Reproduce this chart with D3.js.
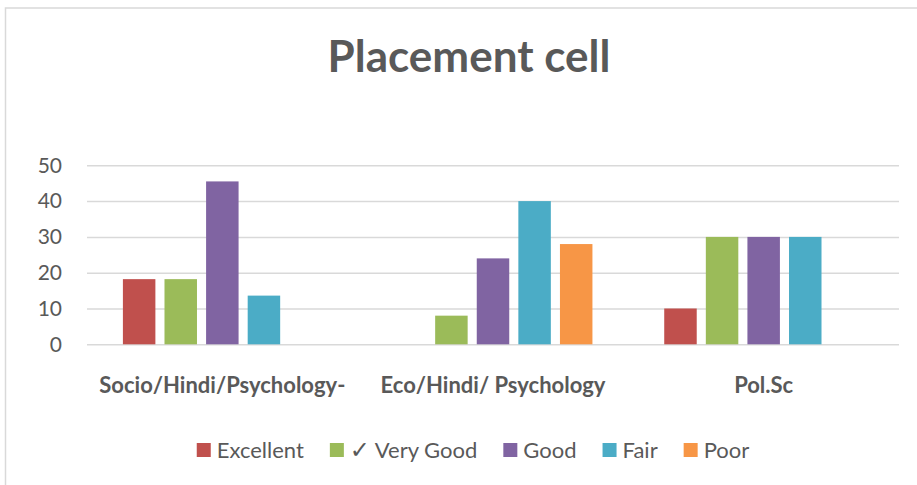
<!DOCTYPE html>
<html>
<head>
<meta charset="utf-8">
<script src="https://cdn.jsdelivr.net/npm/d3@7"></script>
<style>
  body { margin: 0; background: #fff; }
  text { font-family: Lato, "Noto Sans", sans-serif; fill: #595959; }
</style>
</head>
<body>
<script>
// chart data
var categories = ["Socio/Hindi/Psychology-", "Eco/Hindi/ Psychology", "Pol.Sc"];
var series = ["Excellent", "\u2713 Very Good", "Good", "Fair", "Poor"];
var colors = ["#C0504D", "#9BBB59", "#8064A2", "#4BACC6", "#F79646"];
var excellent = [18.2, 0, 10];
var veryGood = [18.2, 8, 30];
var good = [45.5, 24, 30];
var fair = [13.6, 40, 30];
var poor = [0, 28, 0];
var yTicks = [0, 10, 20, 30, 40, 50];

var values = [excellent, veryGood, good, fair, poor];

var width = 917, height = 485;
var margin = {top: 165.3, right: 18, bottom: 140.7, left: 87};

var svg = d3.select("body").append("svg")
    .attr("width", width)
    .attr("height", height);

// chart area border
svg.append("rect")
    .attr("x", 5.5).attr("y", 8)
    .attr("width", 930).attr("height", 500)
    .attr("fill", "none")
    .attr("stroke", "#d9d9d9")
    .attr("stroke-width", 1.5);

// title
svg.append("text")
    .attr("x", 469).attr("y", 72)
    .attr("text-anchor", "middle")
    .style("font-size", "44px")
    .style("font-weight", "bold")
    .text("Placement cell");

var x0 = d3.scaleBand()
    .domain(categories)
    .range([margin.left, width - margin.right])
    .padding(0);

var x1 = d3.scaleBand()
    .domain(d3.range(series.length))
    .range([0, x0.bandwidth()])
    .paddingInner(0.219)
    .paddingOuter(0.863);

var y = d3.scaleLinear()
    .domain([0, 50])
    .range([height - margin.bottom, margin.top]);

// gridlines + tick labels
var yAxis = d3.axisLeft(y)
    .tickValues(yTicks)
    .tickSize(-(width - margin.left - margin.right))
    .tickPadding(25);

var gy = svg.append("g")
    .attr("transform", "translate(" + margin.left + ",0)")
    .call(yAxis);
gy.select(".domain").remove();
gy.selectAll(".tick line")
    .attr("stroke", "#d9d9d9")
    .attr("stroke-width", 1.5);
gy.selectAll(".tick text")
    .style("font-size", "21px")
    .style("font-family", "Lato, sans-serif")
    .attr("fill", "#595959");

// bars
var groups = svg.append("g").selectAll("g")
    .data(categories)
    .enter().append("g")
    .attr("transform", function(d) { return "translate(" + x0(d) + ",0)"; });

groups.selectAll("rect")
    .data(function(d, i) {
      return values.map(function(s, j) { return {series: j, value: s[i]}; })
        .filter(function(e) { return e.value > 0; });
    })
    .enter().append("rect")
    .attr("x", function(d) { return x1(d.series); })
    .attr("y", function(d) { return y(d.value); })
    .attr("width", x1.bandwidth())
    .attr("height", function(d) { return y(0) - y(d.value); })
    .attr("fill", function(d) { return colors[d.series]; });

// category labels
svg.append("g").selectAll("text")
    .data(categories)
    .enter().append("text")
    .attr("x", function(d) { return x0(d) + x0.bandwidth() / 2; })
    .attr("y", 393)
    .attr("text-anchor", "middle")
    .style("font-size", "22px")
    .style("font-weight", "bold")
    .text(function(d) { return d; });

// legend
var legend = svg.append("g");
var items = legend.selectAll("g")
    .data(series)
    .enter().append("g");
items.append("rect")
    .attr("width", 14).attr("height", 14)
    .attr("y", 443)
    .attr("fill", function(d, i) { return colors[i]; });
var labels = items.append("text")
    .attr("x", 20)
    .attr("y", 458)
    .style("font-size", "22px");
labels.each(function(d) {
  var t = d3.select(this);
  if (d.charAt(0) === "\u2713") {
    t.append("tspan")
      .style("font-family", "DejaVu Sans, sans-serif")
      .style("font-size", "24px")
      .text("\u2713");
    t.append("tspan").text(d.slice(1));
  } else {
    t.text(d);
  }
});

var pos = 0, offsets = [];
items.each(function() {
  offsets.push(pos);
  pos += 20 + this.querySelector("text").getComputedTextLength() + 26;
});
var total = pos - 26;
var start = 473 - total / 2;
items.attr("transform", function(d, i) { return "translate(" + (start + offsets[i]) + ",0)"; });
</script>
</body>
</html>
